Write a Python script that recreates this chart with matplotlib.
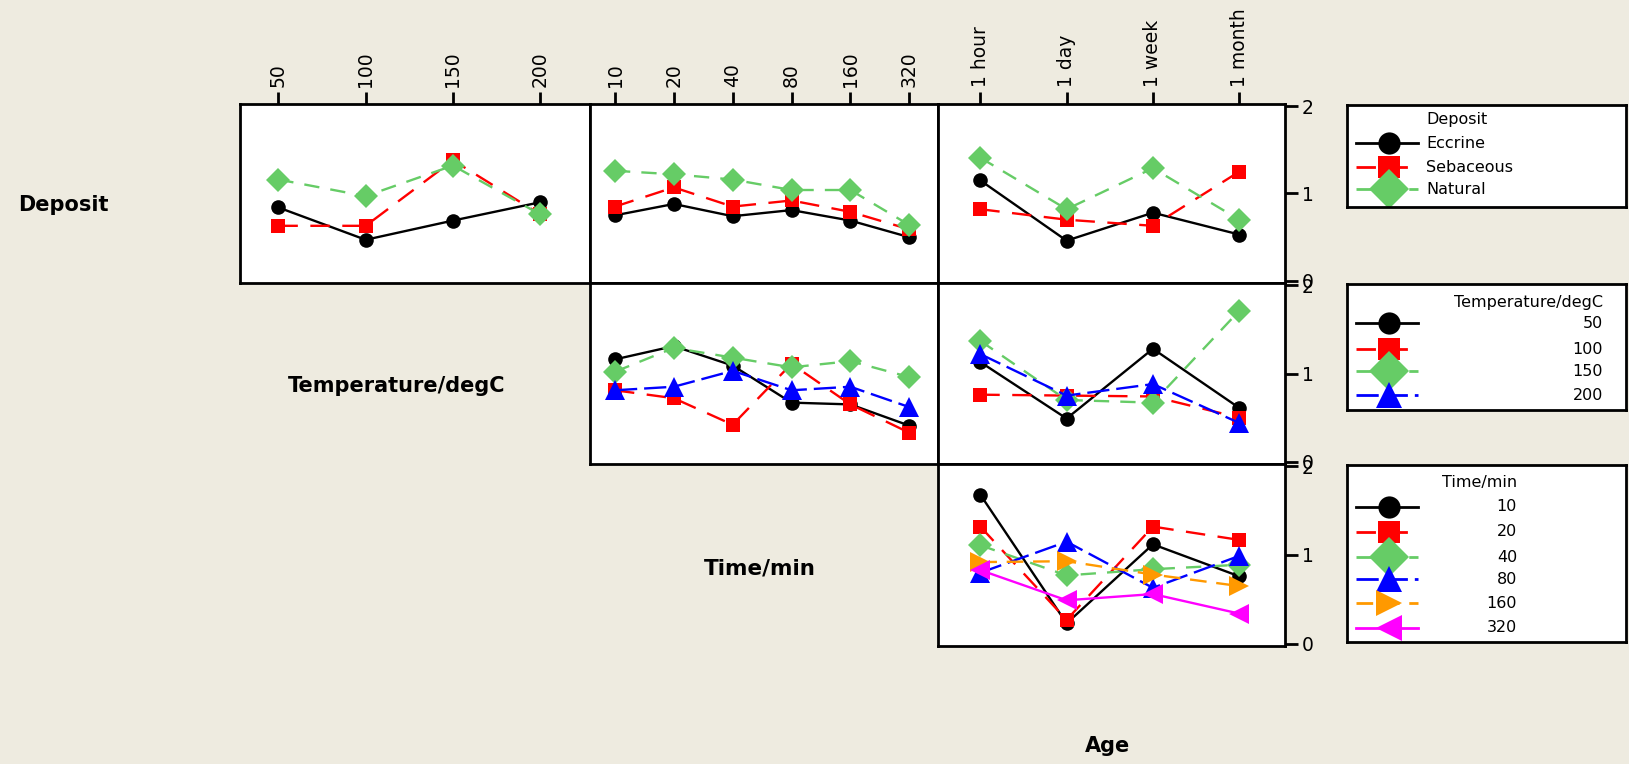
import matplotlib
matplotlib.use('Agg')
import matplotlib.pyplot as plt
import numpy as np

# factor levels
deposit_levels = ['Eccrine', 'Sebaceous', 'Natural']
temp_levels = ['50', '100', '150', '200']
time_levels = ['10', '20', '40', '80', '160', '320']
age_levels = ['1 hour', '1 day', '1 week', '1 month']

# mean responses (rows = trace factor levels, cols = x factor levels)
deposit_by_temp = [[0.84, 0.47, 0.69, 0.90],
                   [0.63, 0.63, 1.38, 0.76],
                   [1.16, 0.97, 1.32, 0.76]]
deposit_by_time = [[0.75, 0.88, 0.74, 0.81, 0.69, 0.50],
                   [0.85, 1.07, 0.85, 0.92, 0.79, 0.59],
                   [1.26, 1.22, 1.16, 1.04, 1.04, 0.64]]
deposit_by_age = [[1.15, 0.46, 0.78, 0.53],
                  [0.82, 0.70, 0.63, 1.25],
                  [1.41, 0.82, 1.29, 0.70]]
temp_by_time = [[1.16, 1.31, 1.09, 0.67, 0.65, 0.41],
                [0.81, 0.72, 0.42, 1.11, 0.65, 0.33],
                [1.02, 1.29, 1.18, 1.07, 1.14, 0.96],
                [0.81, 0.85, 1.03, 0.81, 0.85, 0.62]]
temp_by_age = [[1.13, 0.49, 1.28, 0.61],
               [0.76, 0.75, 0.74, 0.50],
               [1.37, 0.70, 0.67, 1.71],
               [1.22, 0.75, 0.88, 0.44]]
time_by_age = [[1.68, 0.23, 1.12, 0.76],
               [1.32, 0.27, 1.32, 1.17],
               [1.11, 0.77, 0.84, 0.89],
               [0.80, 1.15, 0.63, 0.99],
               [0.92, 0.93, 0.78, 0.65],
               [0.83, 0.49, 0.56, 0.34]]

y_ticks = [0, 1, 2]

# Minitab-like series styles
colors = ['black', '#FF0000', '#66CC66', '#0000FF', '#FF9900', '#FF00FF']
markers = ['o', 's', 'D', '^', '>', '<']
msizes = [10.5, 10.5, 12.5, 14, 14, 14]
leg_msizes = [16, 16, 20, 19, 19, 19]
dashes = [None, (14, 9), (11, 8), (16, 5), (12, 7), None]

plt.rcParams['lines.scale_dashes'] = False
plt.rcParams['font.family'] = 'DejaVu Sans'

W, H = 1629, 764
BG = '#EEEBE0'
fig = plt.figure(figsize=(W / 100, H / 100), dpi=100, facecolor=BG)


def rect(x0, y0, x1, y1):
    return [x0 / W, 1 - y1 / H, (x1 - x0) / W, (y1 - y0) / H]


def draw_series(ax, x, vals, k, ms=None, lw=1.7):
    kw = dict(color=colors[k], marker=markers[k], markersize=ms or msizes[k],
              linewidth=lw, markeredgewidth=0)
    line, = ax.plot(x, vals, **kw)
    if dashes[k] is not None:
        line.set_dashes(dashes[k])
    return line


rows = [(104, 283), (283, 464), (464, 646)]
cols = [(240, 590), (590, 938), (938, 1285)]
xlims = [(0.56, 4.57), (0.575, 6.49), (0.51, 4.53)]
x_levels = [temp_levels, time_levels, age_levels]

panels = {(0, 0): deposit_by_temp, (0, 1): deposit_by_time, (0, 2): deposit_by_age,
          (1, 1): temp_by_time, (1, 2): temp_by_age, (2, 2): time_by_age}

for (i, j), data in panels.items():
    ax = fig.add_axes(rect(cols[j][0], rows[i][0], cols[j][1], rows[i][1]))
    ax.set_facecolor('white')
    x = np.arange(1, len(x_levels[j]) + 1)
    for k, vals in enumerate(data):
        draw_series(ax, x, vals, k)
    ax.set_xlim(*xlims[j])
    ax.set_ylim(-0.025, 2.025)
    for s in ax.spines.values():
        s.set_linewidth(2)
        s.set_color('black')
    ax.tick_params(axis='both', which='both', length=0)
    ax.set_xticks([])
    ax.set_yticks([])
    if i == 0:
        ax.xaxis.tick_top()
        ax.set_xticks(x)
        ax.set_xticklabels(x_levels[j], rotation=90, fontsize=13.5)
        ax.tick_params(axis='x', top=True, bottom=False, length=9, width=2,
                       direction='out', pad=3)
    if j == 2:
        ax.yaxis.tick_right()
        ax.set_yticks(y_ticks)
        ax.set_yticklabels([str(t) for t in y_ticks], fontsize=13.5)
        ax.tick_params(axis='y', right=True, left=False, length=9, width=2,
                       direction='out', pad=3)

# row factor labels
fig.text(63 / W, 1 - 205 / H, 'Deposit', fontsize=15, fontweight='bold',
         ha='center', va='center')
fig.text(397 / W, 1 - 386 / H, 'Temperature/degC', fontsize=15, fontweight='bold',
         ha='center', va='center')
fig.text(760 / W, 1 - 569 / H, 'Time/min', fontsize=15.5, fontweight='bold',
         ha='center', va='center')
fig.text(1108 / W, 1 - 746 / H, 'Age', fontsize=15, fontweight='bold',
         ha='center', va='center')


def legend_box(y0, y1, title, labels, text_x, ha, ys, title_y):
    x0, x1 = 1347, 1626
    lax = fig.add_axes(rect(x0, y0, x1, y1))
    lax.set_facecolor('white')
    lax.set_xlim(0, x1 - x0)
    lax.set_ylim(y1 - y0, 0)
    lax.set_xticks([])
    lax.set_yticks([])
    for s in lax.spines.values():
        s.set_linewidth(2)
    lax.text(text_x, title_y, title, fontsize=11.5, ha=ha, va='center')
    for k, (lab, yy) in enumerate(zip(labels, ys)):
        line = draw_series(lax, [9, 42, 71], [yy, yy, yy], k, ms=leg_msizes[k], lw=2)
        line.set_markevery([1])
        lax.text(text_x, yy, lab, fontsize=11.5, ha=ha, va='center')


legend_box(105, 207, 'Deposit', deposit_levels, 79, 'left', [38, 62, 84], 14)
legend_box(284, 410, 'Temperature/degC', temp_levels, 256, 'right',
           [39, 65, 87, 111], 18)
legend_box(465, 642, 'Time/min', time_levels, 170, 'right',
           [42, 67, 92, 114, 138, 163], 18)

fig.savefig('out.png', dpi=100, facecolor=BG)
